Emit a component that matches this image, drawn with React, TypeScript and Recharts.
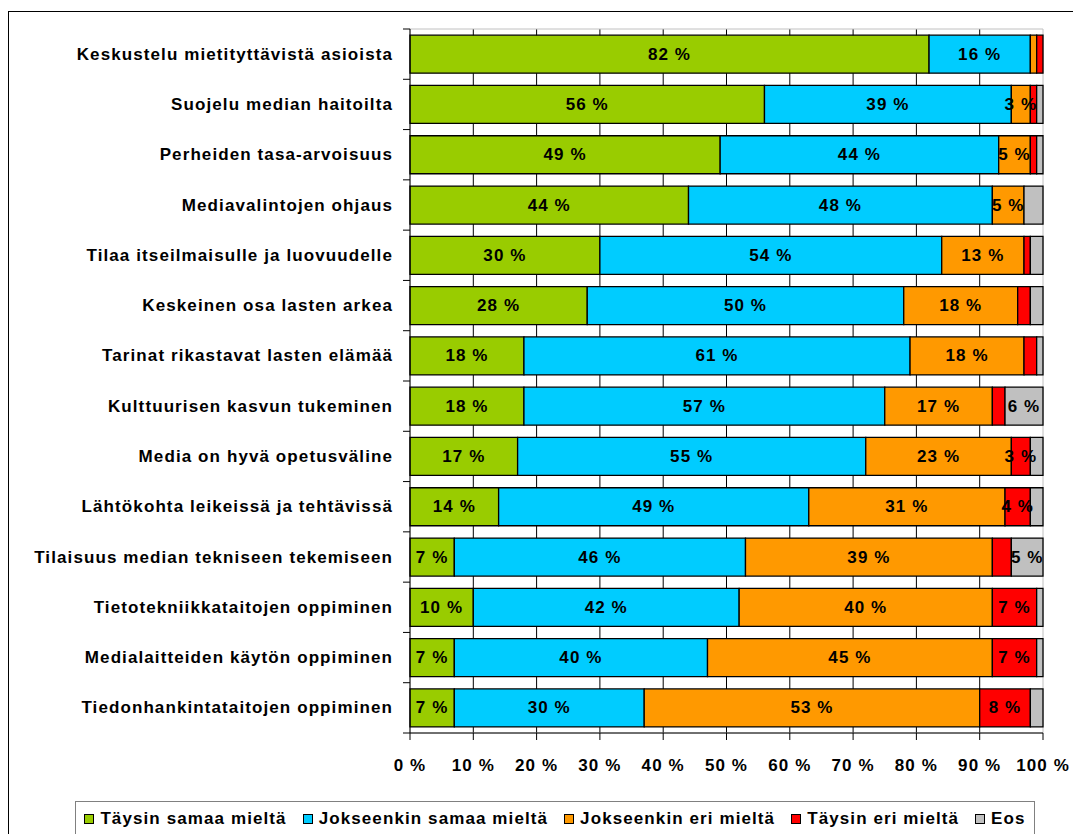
import React from "react";
import {
  BarChart,
  Bar,
  XAxis,
  YAxis,
  CartesianGrid,
  Legend,
  LabelList,
  ReferenceArea,
} from "recharts";

const categories = [
  "Keskustelu mietityttävistä asioista",
  "Suojelu median haitoilta",
  "Perheiden tasa-arvoisuus",
  "Mediavalintojen ohjaus",
  "Tilaa itseilmaisulle ja luovuudelle",
  "Keskeinen osa lasten arkea",
  "Tarinat rikastavat lasten elämää",
  "Kulttuurisen kasvun tukeminen",
  "Media on hyvä opetusväline",
  "Lähtökohta leikeissä ja tehtävissä",
  "Tilaisuus median tekniseen tekemiseen",
  "Tietotekniikkataitojen oppiminen",
  "Medialaitteiden käytön oppiminen",
  "Tiedonhankintataitojen oppiminen",
];

const taysinSamaa = [82, 56, 49, 44, 30, 28, 18, 18, 17, 14, 7, 10, 7, 7];
const jokseenkinSamaa = [16, 39, 44, 48, 54, 50, 61, 57, 55, 49, 46, 42, 40, 30];
const jokseenkinEri = [1, 3, 5, 5, 13, 18, 18, 17, 23, 31, 39, 40, 45, 53];
const taysinEri = [1, 1, 1, 0, 1, 2, 2, 2, 3, 4, 3, 7, 7, 8];
const eos = [0, 1, 1, 3, 2, 2, 1, 6, 2, 2, 5, 1, 1, 2];

// which value labels are printed in the original (1 = shown)
const showTaysinSamaa = [1, 1, 1, 1, 1, 1, 1, 1, 1, 1, 1, 1, 1, 1];
const showJokseenkinSamaa = [1, 1, 1, 1, 1, 1, 1, 1, 1, 1, 1, 1, 1, 1];
const showJokseenkinEri = [0, 1, 1, 1, 1, 1, 1, 1, 1, 1, 1, 1, 1, 1];
const showTaysinEri = [0, 0, 0, 0, 0, 0, 0, 0, 1, 1, 0, 1, 1, 1];
const showEos = [0, 0, 0, 0, 0, 0, 0, 1, 0, 0, 1, 0, 0, 0];

const xTicks = [0, 10, 20, 30, 40, 50, 60, 70, 80, 90, 100];
const gridValues = [10, 20, 30, 40, 50, 60, 70, 80, 90];

const seriesNames = [
  "Täysin samaa mieltä",
  "Jokseenkin samaa mieltä",
  "Jokseenkin eri mieltä",
  "Täysin eri mieltä",
  "Eos",
];
const seriesKeys = ["ts", "js", "je", "te", "eos"];
const seriesColors = ["#99CC00", "#00CCFF", "#FF9900", "#FF0000", "#C0C0C0"];

const seriesValues = [taysinSamaa, jokseenkinSamaa, jokseenkinEri, taysinEri, eos];
const seriesShow = [showTaysinSamaa, showJokseenkinSamaa, showJokseenkinEri, showTaysinEri, showEos];

const data = categories.map((c, i) => {
  const row: any = { name: c };
  seriesKeys.forEach((k, s) => {
    row[k] = seriesValues[s][i];
    row[k + "L"] = seriesShow[s][i] ? `${seriesValues[s][i]} %` : null;
  });
  return row;
});

const FONT = "'Liberation Sans', Arial, Helvetica, sans-serif";
const FS = 17;
const LS = 1.1;
const CHART_W = 1073;
const CHART_H = 826;
const MARGIN = { top: 21, right: 38, bottom: 0, left: 0 };
const Y_W = 402;
const X_H = 61;
const LEGEND_H = 40;
const PLOT_H = CHART_H - MARGIN.top - MARGIN.bottom - X_H - LEGEND_H;
const BAND = PLOT_H / categories.length;

const YTick = (props: any) => {
  const { x, y, payload, index } = props;
  return (
    <g>
      <text
        x={x - 17}
        y={y}
        textAnchor="end"
        dominantBaseline="central"
        fontFamily={FONT}
        fontWeight="bold"
        fontSize={FS}
        letterSpacing={LS}
        fill="#000"
      >
        {payload.value}
      </text>
      <line x1={x - 7} x2={x} y1={y - BAND / 2} y2={y - BAND / 2} stroke="#000" />
      {index === categories.length - 1 && (
        <line x1={x - 7} x2={x} y1={y + BAND / 2} y2={y + BAND / 2} stroke="#000" />
      )}
    </g>
  );
};

const ValueLabel = (props: any) => {
  const { x, y, width, height, value } = props;
  if (value == null) return null;
  return (
    <text
      x={x + width / 2}
      y={y + height / 2}
      textAnchor="middle"
      dominantBaseline="central"
      fontFamily={FONT}
      fontWeight="bold"
      fontSize={FS}
      letterSpacing={LS}
      fill="#000"
    >
      {value}
    </text>
  );
};

const LegendContent = () => (
  <div
    style={{
      boxSizing: "border-box",
      width: 960,
      height: LEGEND_H,
      border: "1px solid #808080",
      borderBottom: "none",
      display: "flex",
      alignItems: "flex-start",
      justifyContent: "center",
      paddingTop: 7,
      fontFamily: FONT,
      fontWeight: "bold",
      fontSize: FS,
      letterSpacing: LS,
      color: "#000",
      background: "#fff",
      whiteSpace: "nowrap",
    }}
  >
    {seriesNames.map((n, i) => (
      <div key={n} style={{ display: "flex", alignItems: "center", marginRight: i < 4 ? 16 : 0 }}>
        <span
          style={{
            display: "inline-block",
            width: 8,
            height: 8,
            border: "1px solid #000",
            background: seriesColors[i],
            marginRight: 6,
          }}
        />
        <span>{n}</span>
      </div>
    ))}
  </div>
);

export default function App() {
  return (
    <div style={{ position: "relative", width: CHART_W, height: CHART_H, fontFamily: FONT }}>
      <div
        style={{
          position: "absolute",
          left: 0,
          top: 3,
          width: CHART_W + 20,
          height: CHART_H + 20,
          borderLeft: "1px solid #000",
          borderTop: "1px solid #000",
          boxSizing: "border-box",
          pointerEvents: "none",
        }}
      />
      <BarChart
        width={CHART_W}
        height={CHART_H}
        data={data}
        layout="vertical"
        margin={MARGIN}
        barCategoryGap="12.3%"
      >
        <CartesianGrid horizontal={false} vertical={true} verticalValues={gridValues} stroke="#000" />
        <ReferenceArea x1={0} x2={100} fill="none" stroke="#C0C0C0" strokeWidth={1} ifOverflow="visible" />
        <XAxis
          type="number"
          domain={[0, 100]}
          ticks={xTicks}
          tickFormatter={(v: number) => `${v} %`}
          height={X_H}
          tickSize={7}
          tickMargin={19}
          axisLine={{ stroke: "#000" }}
          tickLine={{ stroke: "#000" }}
          tick={{ fill: "#000", fontFamily: FONT, fontWeight: "bold", fontSize: FS, letterSpacing: LS }}
          interval={0}
        />
        <YAxis
          type="category"
          dataKey="name"
          width={Y_W}
          tickSize={0}
          tickMargin={0}
          tickLine={false}
          axisLine={{ stroke: "#000" }}
          tick={<YTick />}
          interval={0}
        />
        <Legend
          verticalAlign="bottom"
          align="center"
          content={<LegendContent />}
          wrapperStyle={{ left: 67, top: 793, width: 960, height: LEGEND_H, bottom: "auto" }}
        />
        {seriesKeys.map((k, i) => (
          <Bar
            key={k}
            dataKey={k}
            name={seriesNames[i]}
            stackId="a"
            fill={seriesColors[i]}
            stroke="#000"
            strokeWidth={1.3}
            isAnimationActive={false}
          >
            <LabelList dataKey={k + "L"} content={<ValueLabel />} />
          </Bar>
        ))}
      </BarChart>
    </div>
  );
}
